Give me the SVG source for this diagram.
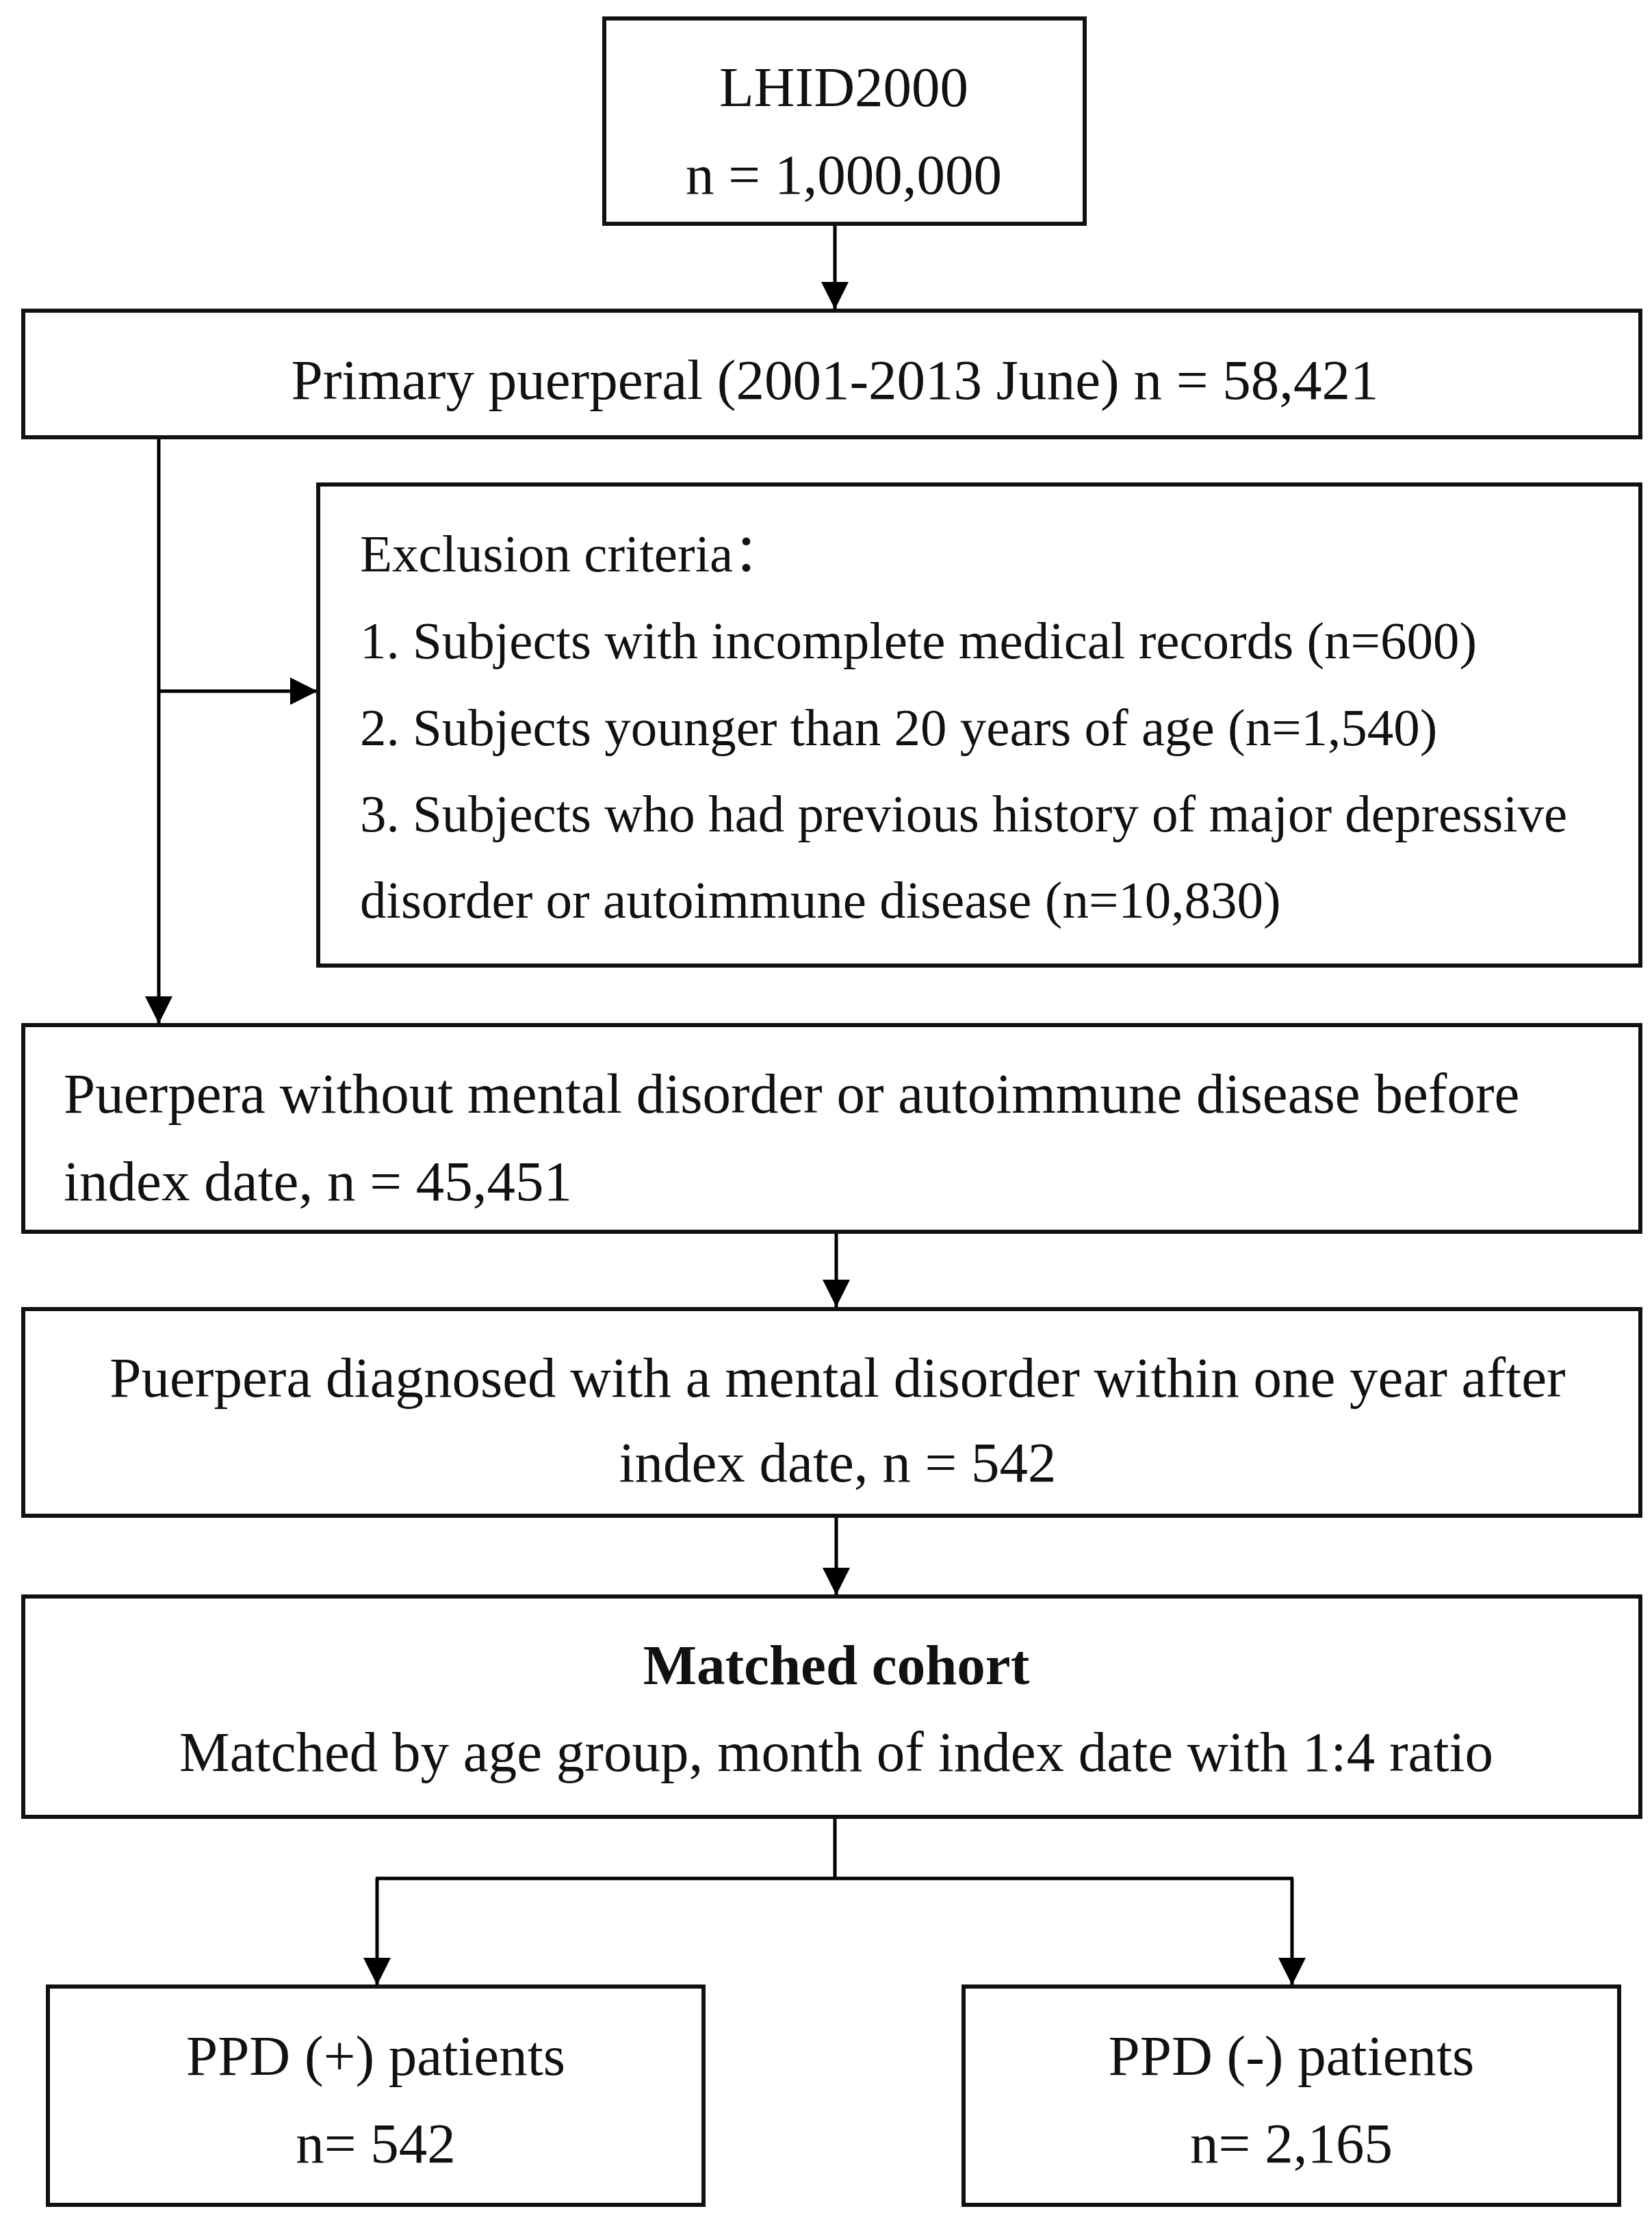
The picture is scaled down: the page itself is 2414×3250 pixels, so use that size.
<svg xmlns="http://www.w3.org/2000/svg" width="2414" height="3250" viewBox="0 0 2414 3250">
<style>
.box{fill:#fff;stroke:#111;stroke-width:6}
.t{font-family:"Liberation Serif","Times New Roman","Noto Sans CJK SC",serif;font-size:83px;fill:#111}
.c{text-anchor:middle}
.ex{font-size:77px}
.b{font-weight:bold}
.ln{fill:none;stroke:#000;stroke-width:5}
</style>
<defs>
<marker id="ah" markerUnits="userSpaceOnUse" viewBox="0 0 40 40" markerWidth="40" markerHeight="40" refX="40" refY="20" orient="auto">
<path d="M0,0 L40,20 L0,40 z" fill="#000"/>
</marker>
</defs>
<rect width="2414" height="3250" fill="#fff"/>
<g id="connectors">
<line class="ln" x1="1220" y1="327" x2="1220" y2="452" marker-end="url(#ah)"/>
<line class="ln" x1="232" y1="641" x2="232" y2="1496" marker-end="url(#ah)"/>
<line class="ln" x1="232" y1="1010" x2="464" y2="1010" marker-end="url(#ah)"/>
<line class="ln" x1="1222" y1="1800" x2="1222" y2="1910" marker-end="url(#ah)"/>
<line class="ln" x1="1222" y1="2215" x2="1222" y2="2331" marker-end="url(#ah)"/>
<polyline class="ln" points="1220,2655 1220,2745"/>
<line class="ln" x1="549" y1="2745" x2="1890" y2="2745"/>
<line class="ln" x1="551" y1="2745" x2="551" y2="2901" marker-end="url(#ah)"/>
<line class="ln" x1="1888" y1="2745" x2="1888" y2="2901" marker-end="url(#ah)"/>
</g>
<g id="n-lhid">
<rect class="box" x="883" y="27" width="702" height="300"/>
<text class="t c" x="1233" y="155">LHID2000</text>
<text class="t c" x="1233" y="283">n = 1,000,000</text>
</g>
<g id="n-primary">
<rect class="box" x="34" y="454" width="2363" height="185"/>
<text class="t c" x="1220" y="583">Primary puerperal (2001-2013 June) n = 58,421</text>
</g>
<g id="n-exclusion">
<rect class="box" x="465" y="708" width="1932" height="703"/>
<text class="t ex" x="526" y="835">Exclusion criteria：</text>
<text class="t ex" x="526" y="962">1. Subjects with incomplete medical records (n=600)</text>
<text class="t ex" x="526" y="1089">2. Subjects younger than 20 years of age (n=1,540)</text>
<text class="t ex" x="526" y="1215">3. Subjects who had previous history of major depressive</text>
<text class="t ex" x="526" y="1341">disorder or autoimmune disease (n=10,830)</text>
</g>
<g id="n-puerpera">
<rect class="box" x="34" y="1498" width="2363" height="302"/>
<text class="t" x="93" y="1626">Puerpera without mental disorder or autoimmune disease before</text>
<text class="t" x="93" y="1754">index date, n = 45,451</text>
</g>
<g id="n-diagnosed">
<rect class="box" x="34" y="1913" width="2363" height="302"/>
<text class="t c" x="1224" y="2041">Puerpera diagnosed with a mental disorder within one year after</text>
<text class="t c" x="1224" y="2165">index date, n = 542</text>
</g>
<g id="n-matched">
<rect class="box" x="34" y="2333" width="2363" height="322"/>
<text class="t c b" x="1222" y="2461">Matched cohort</text>
<text class="t c" x="1222" y="2588">Matched by age group, month of index date with 1:4 ratio</text>
</g>
<g id="n-ppdpos">
<rect class="box" x="70" y="2903" width="958" height="319"/>
<text class="t c" x="549" y="3032">PPD (+) patients</text>
<text class="t c" x="549" y="3160">n= 542</text>
</g>
<g id="n-ppdneg">
<rect class="box" x="1408" y="2903" width="958" height="319"/>
<text class="t c" x="1887" y="3032">PPD (-) patients</text>
<text class="t c" x="1887" y="3160">n= 2,165</text>
</g>
</svg>
